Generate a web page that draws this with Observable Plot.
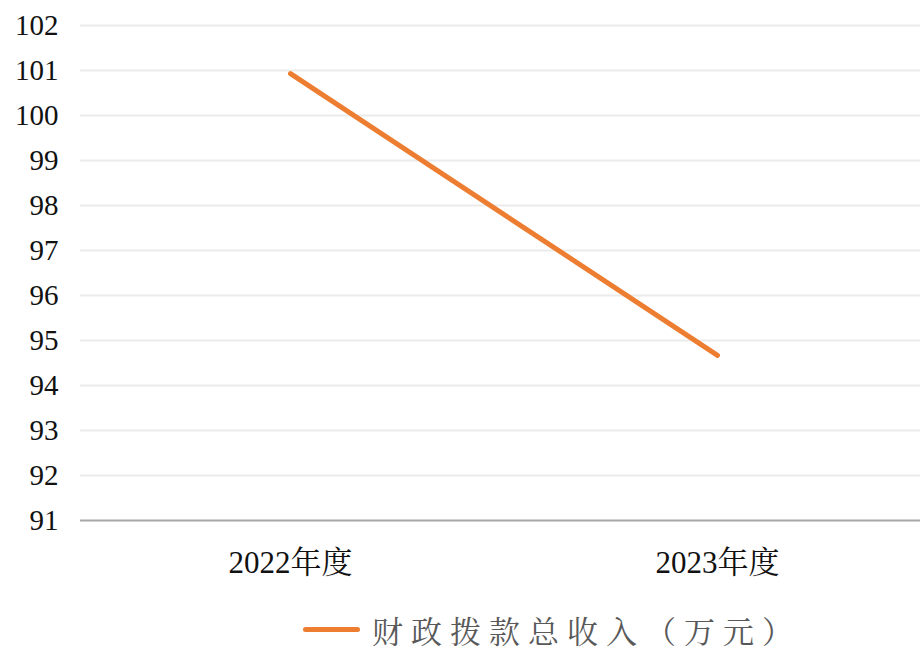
<!DOCTYPE html>
<html><head><meta charset="utf-8">
<script src="https://cdn.jsdelivr.net/npm/d3@7"></script>
<script src="https://cdn.jsdelivr.net/npm/@observablehq/plot@0.6"></script>
<style>
html,body{margin:0;padding:0;background:#fff;overflow:hidden;}
#chart svg{display:block;}
#chart svg text{font-family:"Liberation Serif","Noto Serif CJK SC","Noto Sans CJK SC",serif !important;}
#legend{position:absolute;left:303px;top:607px;display:flex;align-items:center;font-family:"Liberation Serif","Noto Serif CJK SC","Noto Sans CJK SC",serif;font-size:31px;color:#595959;letter-spacing:8px;white-space:nowrap;}
#legend .sw{width:57px;height:5px;border-radius:3px;background:#ED7D31;margin-right:12px;}
</style></head>
<body>
<div id="chart"></div>
<div id="legend"><span class="sw"></span><span id="legtext"></span></div>
<script>
const categories = ["2022年度", "2023年度"];
const values = [100.93, 94.67];
const seriesName = "财政拨款总收入（万元）";
const yTicks = [91, 92, 93, 94, 95, 96, 97, 98, 99, 100, 101, 102];

const data = categories.map((c, i) => ({cat: c, v: values[i]}));
const font = '"Liberation Serif","Noto Serif CJK SC","Noto Sans CJK SC",serif';

const chart = Plot.plot({
  width: 920,
  height: 590,
  marginTop: 25,
  marginBottom: 70,
  marginLeft: 80,
  marginRight: -7,
  style: {fontFamily: font, fontSize: "29px", color: "#111", background: "#fff", overflow: "hidden"},
  x: {type: "point", domain: categories, padding: 0.4918, label: null},
  y: {domain: [91, 102], ticks: yTicks, label: null},
  marks: [
    Plot.ruleY(yTicks.filter(t => t !== 91), {stroke: "#ebebeb", strokeWidth: 2}),
    Plot.ruleY([91], {stroke: "#a6a6a6", strokeWidth: 2}),
    Plot.axisY({ticks: yTicks, tickSize: 0, tickPadding: 22, fontSize: 29, tickFormat: d => String(d)}),
    Plot.axisX({tickSize: 0, tickPadding: 30, fontSize: 31}),
    Plot.line(data, {x: "cat", y: "v", stroke: "#ED7D31", strokeWidth: 5, strokeLinecap: "round"})
  ]
});
document.getElementById("chart").appendChild(chart);
document.getElementById("legtext").textContent = seriesName;
</script>
</body></html>
